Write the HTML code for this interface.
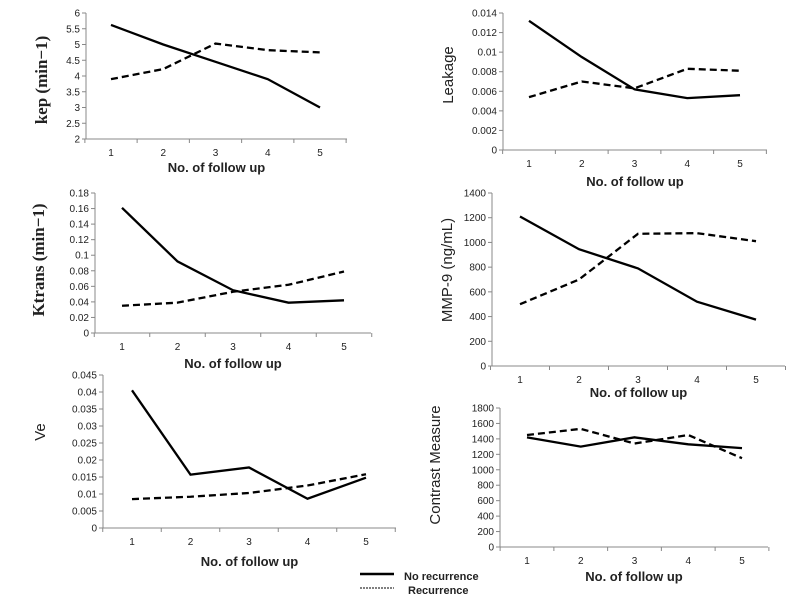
<!DOCTYPE html>
<html><head><meta charset="utf-8">
<style>
body{margin:0;background:#fff;width:800px;height:600px;overflow:hidden}
svg{display:block}
text{font-family:"Liberation Sans",sans-serif;fill:#222}
.tick{font-size:10px}
.xt{font-size:13px;font-weight:bold}
</style></head>
<body>
<svg id="chart" width="800" height="600">
<g>
<line x1="360" y1="574" x2="394" y2="574" stroke="#000" stroke-width="2.5"/>
<text x="404" y="580" style="font-size:11px;font-weight:bold">No recurrence</text>
<line x1="360" y1="588" x2="394" y2="588" stroke="#000" stroke-width="1" stroke-dasharray="2,1"/>
<text x="408" y="594" style="font-size:11px;font-weight:bold">Recurrence</text>
</g>
</svg>
<script>
const categories=["1","2","3","4","5"];
const kepNone=[5.62,5.0,4.45,3.9,3.0];
const kepRec=[3.9,4.22,5.03,4.82,4.75];
const kepTicks=["2","2.5","3","3.5","4","4.5","5","5.5","6"];
const leakNone=[0.0132,0.0095,0.0062,0.0053,0.0056];
const leakRec=[0.0054,0.007,0.0063,0.0083,0.0081];
const leakTicks=["0","0.002","0.004","0.006","0.008","0.01","0.012","0.014"];
const ktNone=[0.161,0.092,0.055,0.039,0.042];
const ktRec=[0.035,0.039,0.053,0.062,0.079];
const ktTicks=["0","0.02","0.04","0.06","0.08","0.1","0.12","0.14","0.16","0.18"];
const mmpNone=[1210,945,790,520,375];
const mmpRec=[500,700,1070,1075,1010];
const mmpTicks=["0","200","400","600","800","1000","1200","1400"];
const veNone=[0.0405,0.0157,0.0178,0.0086,0.0148];
const veRec=[0.0085,0.0092,0.0103,0.0125,0.0158];
const veTicks=["0","0.005","0.01","0.015","0.02","0.025","0.03","0.035","0.04","0.045"];
const cmNone=[1420,1300,1420,1330,1280];
const cmRec=[1450,1530,1340,1450,1150];
const cmTicks=["0","200","400","600","800","1000","1200","1400","1600","1800"];

const NS="http://www.w3.org/2000/svg";
const svg=document.getElementById('chart');
function mk(tag,attrs,parent){const e=document.createElementNS(NS,tag);for(const k in attrs)e.setAttribute(k,attrs[k]);parent.appendChild(e);return e;}

function panel(p){
  const g=mk('g',{},svg);
  
  
  const ymin=parseFloat(p.ticks[0]),ymax=parseFloat(p.ticks[p.ticks.length-1]);
  const y=v=>p.y0+(v-ymin)/(ymax-ymin)*(p.y1-p.y0);
  const step=(p.c5-p.c1)/(categories.length-1);
  const x=i=>p.c1+i*step;
  const ax=mk('line',{x1:p.ax,y1:p.y1,x2:p.ax,y2:p.y0,stroke:'#888','stroke-width':1},g);
  
  
  const xa=mk('line',{x1:p.ax,y1:p.y0,x2:p.xend,y2:p.y0,stroke:'#888','stroke-width':1},g);
  
  
  p.ticks.forEach(t=>{
    const yy=y(parseFloat(t));
    mk('line',{x1:p.ax-4,y1:yy,x2:p.ax,y2:yy,stroke:'#888'},g);
    const tx=mk('text',{x:p.ax-6,y:yy+3.5,'text-anchor':'end','class':'tick'},g);
    tx.textContent=t;
    
    
  });
  for(let i=0;i<=categories.length;i++){
    const xx=p.c1-step/2+i*step;
    mk('line',{x1:xx,y1:p.y0,x2:xx,y2:p.y0+4,stroke:'#888'},g);
  }
  categories.forEach((c,i)=>{
    const tx=mk('text',{x:x(i),y:p.y0+17,'text-anchor':'middle','class':'tick'},g);
    tx.textContent=c;
    
    
  });
  const xt=mk('text',{x:(p.ax+p.xend)/2,y:p.xty,'text-anchor':'middle','class':'xt'},g);
  xt.textContent='No. of follow up';
  
  
  const yt=mk('text',{x:p.ytx,y:p.yty,'text-anchor':'middle',transform:`rotate(-90 ${p.ytx} ${p.yty})`,style:p.ytStyle},g);
  yt.textContent=p.ytitle;
  
  
  const pts=a=>a.map((v,i)=>x(i)+','+y(v)).join(' ');
  const l1=mk('polyline',{points:pts(p.none),fill:'none',stroke:'#000','stroke-width':2.3},g);
  
  
  const l2=mk('polyline',{points:pts(p.rec),fill:'none',stroke:'#000','stroke-width':2.3,'stroke-dasharray':'7,4'},g);
  
  
}
const serif='font-family:"Liberation Serif",serif;font-weight:bold;font-size:17px';
const sans='font-size:15px';
panel({name:'kep',ax:86,xend:347,y0:139,y1:13,c1:111,c5:320,ticks:kepTicks,none:kepNone,rec:kepRec,xty:172,ytx:47,yty:80,ytitle:'kep (min−1)',ytStyle:serif});
panel({name:'leakage',ax:503,xend:767,y0:150,y1:13,c1:529,c5:740,ticks:leakTicks,none:leakNone,rec:leakRec,xty:186,ytx:453,yty:75,ytitle:'Leakage',ytStyle:sans});
panel({name:'ktrans',ax:95,xend:371,y0:333,y1:193,c1:122,c5:344,ticks:ktTicks,none:ktNone,rec:ktRec,xty:368,ytx:44,yty:260,ytitle:'Ktrans (min−1)',ytStyle:serif});
panel({name:'mmp9',ax:492,xend:785,y0:366,y1:193,c1:520,c5:756,ticks:mmpTicks,none:mmpNone,rec:mmpRec,xty:397,ytx:452,yty:270,ytitle:'MMP-9 (ng/mL)',ytStyle:sans});
panel({name:'ve',ax:103,xend:396,y0:528,y1:375,c1:132,c5:366,ticks:veTicks,none:veNone,rec:veRec,xty:566,ytx:45,yty:432,ytitle:'Ve',ytStyle:sans});
panel({name:'contrast',ax:500,xend:768,y0:547,y1:408,c1:527,c5:742,ticks:cmTicks,none:cmNone,rec:cmRec,xty:581,ytx:440,yty:465,ytitle:'Contrast Measure',ytStyle:sans});
</script>
</body></html>
